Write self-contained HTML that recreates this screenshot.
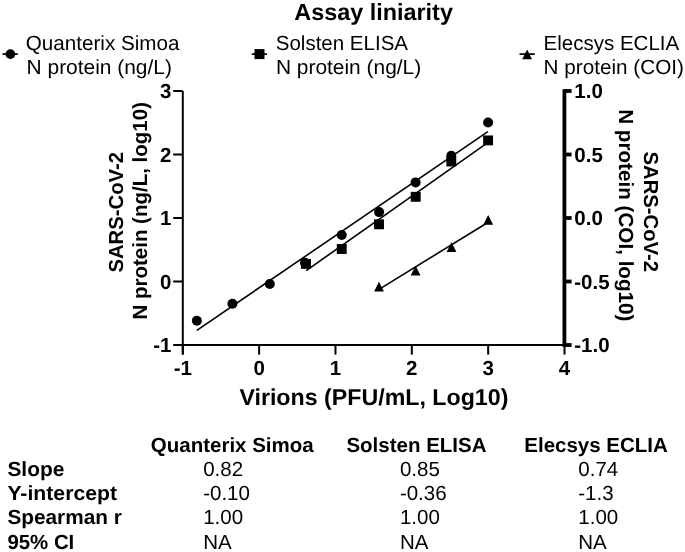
<!DOCTYPE html>
<html><head><meta charset="utf-8"><style>
html,body{margin:0;padding:0;background:#fff;}
svg{display:block;}
text{font-family:'Liberation Sans', sans-serif;fill:#000;text-rendering:geometricPrecision;}
</style></head><body>
<svg width="685" height="552" viewBox="0 0 685 552">
<rect width="685" height="552" fill="#fff"/>
<text x="294.30" y="19.50" font-size="23.4" font-weight="bold" text-anchor="start">Assay liniarity</text>
<line x1="2.50" y1="54.10" x2="17.80" y2="54.10" stroke="#000" stroke-width="1.7"/>
<circle cx="10.40" cy="54.10" r="4.9"/>
<text x="25.80" y="49.90" font-size="20.5" text-anchor="start" textLength="153.7" lengthAdjust="spacingAndGlyphs">Quanterix Simoa</text>
<text x="26.60" y="73.60" font-size="20.5" text-anchor="start" textLength="145.3" lengthAdjust="spacingAndGlyphs">N protein (ng/L)</text>
<line x1="251.80" y1="54.10" x2="267.00" y2="54.10" stroke="#000" stroke-width="1.7"/>
<rect x="254.50" y="49.10" width="10" height="10"/>
<text x="275.80" y="49.90" font-size="20.5" text-anchor="start">Solsten ELISA</text>
<text x="275.90" y="73.60" font-size="20.5" text-anchor="start" textLength="145.3" lengthAdjust="spacingAndGlyphs">N protein (ng/L)</text>
<line x1="519.50" y1="54.10" x2="534.80" y2="54.10" stroke="#000" stroke-width="1.7"/>
<path d="M522.20,59.15 L527.10,49.55 L532.00,59.15Z"/>
<text x="543.60" y="49.90" font-size="20.5" text-anchor="start">Elecsys ECLIA</text>
<text x="543.60" y="73.60" font-size="20.5" text-anchor="start" textLength="140.3" lengthAdjust="spacingAndGlyphs">N protein (COI)</text>
<line x1="182.80" y1="91.00" x2="182.80" y2="354.60" stroke="#000" stroke-width="2"/>
<line x1="173.20" y1="91.00" x2="182.80" y2="91.00" stroke="#000" stroke-width="2"/>
<text x="171.50" y="98.10" font-size="20.5" font-weight="bold" text-anchor="end">3</text>
<line x1="173.20" y1="154.50" x2="182.80" y2="154.50" stroke="#000" stroke-width="2"/>
<text x="171.50" y="161.60" font-size="20.5" font-weight="bold" text-anchor="end">2</text>
<line x1="173.20" y1="218.00" x2="182.80" y2="218.00" stroke="#000" stroke-width="2"/>
<text x="171.50" y="225.10" font-size="20.5" font-weight="bold" text-anchor="end">1</text>
<line x1="173.20" y1="281.50" x2="182.80" y2="281.50" stroke="#000" stroke-width="2"/>
<text x="171.50" y="288.60" font-size="20.5" font-weight="bold" text-anchor="end">0</text>
<line x1="173.20" y1="345.00" x2="182.80" y2="345.00" stroke="#000" stroke-width="2"/>
<text x="171.50" y="352.10" font-size="20.5" font-weight="bold" text-anchor="end">-1</text>
<line x1="182.80" y1="345.00" x2="564.50" y2="345.00" stroke="#000" stroke-width="2"/>
<line x1="182.80" y1="345.00" x2="182.80" y2="354.60" stroke="#000" stroke-width="2"/>
<text x="182.80" y="374.80" font-size="20.5" font-weight="bold" text-anchor="middle">-1</text>
<line x1="259.14" y1="345.00" x2="259.14" y2="354.60" stroke="#000" stroke-width="2"/>
<text x="259.14" y="374.80" font-size="20.5" font-weight="bold" text-anchor="middle">0</text>
<line x1="335.48" y1="345.00" x2="335.48" y2="354.60" stroke="#000" stroke-width="2"/>
<text x="335.48" y="374.80" font-size="20.5" font-weight="bold" text-anchor="middle">1</text>
<line x1="411.82" y1="345.00" x2="411.82" y2="354.60" stroke="#000" stroke-width="2"/>
<text x="411.82" y="374.80" font-size="20.5" font-weight="bold" text-anchor="middle">2</text>
<line x1="488.16" y1="345.00" x2="488.16" y2="354.60" stroke="#000" stroke-width="2"/>
<text x="488.16" y="374.80" font-size="20.5" font-weight="bold" text-anchor="middle">3</text>
<line x1="564.50" y1="345.00" x2="564.50" y2="354.60" stroke="#000" stroke-width="2"/>
<text x="564.50" y="374.80" font-size="20.5" font-weight="bold" text-anchor="middle">4</text>
<line x1="564.40" y1="89.20" x2="564.40" y2="346.90" stroke="#000" stroke-width="3.8"/>
<line x1="564.40" y1="91.00" x2="571.60" y2="91.00" stroke="#000" stroke-width="3.8"/>
<text x="574.30" y="98.00" font-size="20.5" font-weight="bold" text-anchor="start">1.0</text>
<line x1="564.40" y1="154.50" x2="571.60" y2="154.50" stroke="#000" stroke-width="3.8"/>
<text x="574.30" y="161.50" font-size="20.5" font-weight="bold" text-anchor="start">0.5</text>
<line x1="564.40" y1="218.00" x2="571.60" y2="218.00" stroke="#000" stroke-width="3.8"/>
<text x="574.30" y="225.00" font-size="20.5" font-weight="bold" text-anchor="start">0.0</text>
<line x1="564.40" y1="281.50" x2="571.60" y2="281.50" stroke="#000" stroke-width="3.8"/>
<text x="574.30" y="288.50" font-size="20.5" font-weight="bold" text-anchor="start">-0.5</text>
<line x1="564.40" y1="345.00" x2="571.60" y2="345.00" stroke="#000" stroke-width="3.8"/>
<text x="574.30" y="352.00" font-size="20.5" font-weight="bold" text-anchor="start">-1.0</text>
<line x1="196.85" y1="330.34" x2="487.90" y2="131.64" stroke="#000" stroke-width="1.6"/>
<line x1="306.25" y1="270.60" x2="488.10" y2="142.44" stroke="#000" stroke-width="1.6"/>
<line x1="379.00" y1="289.40" x2="488.20" y2="222.20" stroke="#000" stroke-width="1.6"/>
<circle cx="488.10" cy="122.50" r="5.0"/>
<circle cx="451.30" cy="155.80" r="5.0"/>
<circle cx="415.60" cy="182.40" r="5.0"/>
<circle cx="379.10" cy="212.10" r="5.0"/>
<circle cx="341.75" cy="235.00" r="5.0"/>
<circle cx="305.00" cy="262.80" r="5.0"/>
<circle cx="269.80" cy="284.00" r="5.0"/>
<circle cx="232.40" cy="303.80" r="5.0"/>
<circle cx="196.86" cy="320.80" r="5.0"/>
<rect x="483.15" y="135.45" width="9.9" height="9.9"/>
<rect x="446.35" y="156.55" width="9.9" height="9.9"/>
<rect x="410.75" y="191.85" width="9.9" height="9.9"/>
<rect x="374.05" y="219.35" width="9.9" height="9.9"/>
<rect x="336.80" y="244.05" width="9.9" height="9.9"/>
<rect x="301.05" y="258.95" width="9.9" height="9.9"/>
<path d="M483.30,224.80 L488.20,215.00 L493.10,224.80Z"/>
<path d="M446.60,252.10 L451.50,242.30 L456.40,252.10Z"/>
<path d="M410.70,275.50 L415.60,265.70 L420.50,275.50Z"/>
<path d="M374.10,291.60 L379.00,281.80 L383.90,291.60Z"/>
<text transform="translate(123,212.3) rotate(-90)" font-size="20.3" font-weight="bold" text-anchor="middle">SARS-CoV-2</text>
<text transform="translate(147,210.8) rotate(-90)" font-size="20.5" font-weight="bold" text-anchor="middle">N protein (ng/L, log10)</text>
<text transform="translate(643.7,211.75) rotate(90)" font-size="20.3" font-weight="bold" text-anchor="middle">SARS-CoV-2</text>
<text transform="translate(619.4,215.3) rotate(90)" font-size="20.5" font-weight="bold" text-anchor="middle" textLength="212.3" lengthAdjust="spacingAndGlyphs">N protein (COI, log10)</text>
<text x="239.40" y="405.40" font-size="23" font-weight="bold" text-anchor="start" textLength="269.0" lengthAdjust="spacingAndGlyphs">Virions (PFU/mL, Log10)</text>
<text x="7.40" y="476.00" font-size="20.5" font-weight="bold" text-anchor="start" textLength="56.9" lengthAdjust="spacingAndGlyphs">Slope</text>
<text x="7.40" y="500.40" font-size="20.5" font-weight="bold" text-anchor="start" textLength="109.6" lengthAdjust="spacingAndGlyphs">Y-intercept</text>
<text x="7.40" y="524.40" font-size="20.5" font-weight="bold" text-anchor="start" textLength="114.4" lengthAdjust="spacingAndGlyphs">Spearman r</text>
<text x="7.40" y="548.50" font-size="20.5" font-weight="bold" text-anchor="start" textLength="66.9" lengthAdjust="spacingAndGlyphs">95% CI</text>
<text x="150.80" y="451.80" font-size="20.5" font-weight="bold" text-anchor="start">Quanterix Simoa</text>
<text x="346.40" y="451.80" font-size="20.5" font-weight="bold" text-anchor="start">Solsten ELISA</text>
<text x="524.30" y="451.80" font-size="20.5" font-weight="bold" text-anchor="start">Elecsys ECLIA</text>
<text x="203.20" y="476.00" font-size="20.5" text-anchor="start">0.82</text>
<text x="203.20" y="500.40" font-size="20.5" text-anchor="start">-0.10</text>
<text x="203.20" y="524.40" font-size="20.5" text-anchor="start">1.00</text>
<text x="203.20" y="548.50" font-size="20.5" text-anchor="start">NA</text>
<text x="399.90" y="476.00" font-size="20.5" text-anchor="start">0.85</text>
<text x="399.90" y="500.40" font-size="20.5" text-anchor="start">-0.36</text>
<text x="399.90" y="524.40" font-size="20.5" text-anchor="start">1.00</text>
<text x="399.90" y="548.50" font-size="20.5" text-anchor="start">NA</text>
<text x="578.30" y="476.00" font-size="20.5" text-anchor="start">0.74</text>
<text x="578.30" y="500.40" font-size="20.5" text-anchor="start">-1.3</text>
<text x="578.30" y="524.40" font-size="20.5" text-anchor="start">1.00</text>
<text x="578.30" y="548.50" font-size="20.5" text-anchor="start">NA</text>
</svg>
</body></html>
